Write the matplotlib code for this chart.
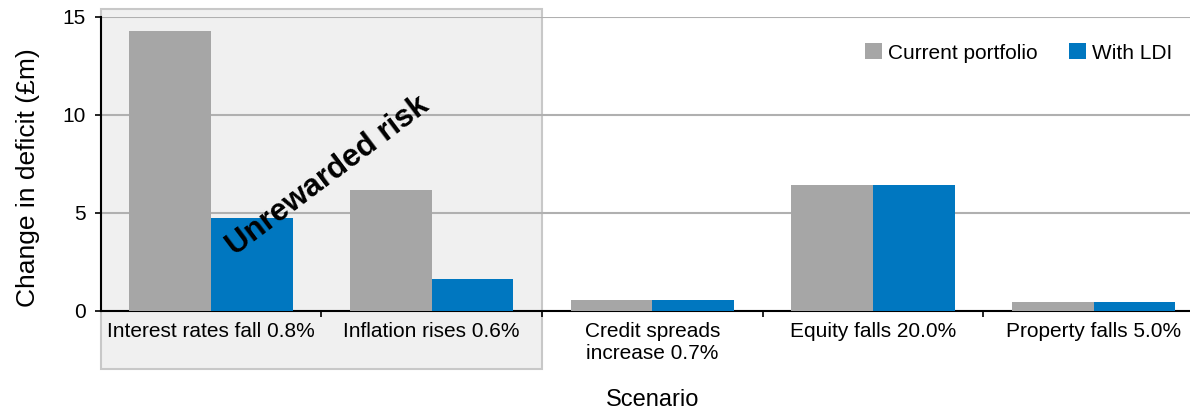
import matplotlib
matplotlib.use("Agg")
from matplotlib import pyplot as plt
from matplotlib.patches import Rectangle
import numpy as np

plt.rcParams['font.family'] = ['Liberation Sans', 'DejaVu Sans']

scenarios = ["Interest rates fall 0.8%", "Inflation rises 0.6%",
             "Credit spreads\nincrease 0.7%", "Equity falls 20.0%",
             "Property falls 5.0%"]
current = [14.27, 6.17, 0.56, 6.42, 0.46]
with_ldi = [4.76, 1.63, 0.56, 6.42, 0.46]

grey = '#a6a6a6'
blue = '#0077c0'

fig = plt.figure(figsize=(11.9, 4.13), dpi=100)
ax = fig.add_axes([0.0846, 0.247, 0.9271, 0.7126])

x = np.arange(len(scenarios))
w = 0.37
ax.bar(x - w/2, current, w, color=grey, label='Current portfolio', zorder=3)
ax.bar(x + w/2, with_ldi, w, color=blue, label='With LDI', zorder=3)

ax.set_xlim(-0.5, len(scenarios) - 0.5)
ax.set_ylim(0, 15)
ax.set_yticks([0, 5, 10, 15])
ax.yaxis.grid(True, color='#b0b0b0', linewidth=1.5, zorder=1)
ax.set_axisbelow(True)

# category boundaries get the tick marks, names sit in between
ax.set_xticks(np.arange(0.5, len(scenarios)), [])
ax.set_xticks(x, scenarios, minor=True)
ax.tick_params(axis='x', which='major', direction='out', length=4, width=1.2)
ax.tick_params(axis='x', which='minor', length=0, pad=8, labelsize=15)
ax.tick_params(axis='y', direction='out', length=4, width=1.2, pad=7, labelsize=15)

for s in ['top', 'right']:
    ax.spines[s].set_visible(False)
ax.spines['left'].set_linewidth(1.5)
ax.spines['bottom'].set_linewidth(1.5)

ax.set_ylabel('Change in deficit (£m)', fontsize=19, va='center')
ax.yaxis.set_label_coords(-0.066, 0.452)
ax.set_xlabel('Scenario', fontsize=17)
ax.xaxis.set_label_coords(0.5, -0.265)

# shaded panel behind the first two scenarios
box = Rectangle((0, -0.197), 0.4, 1.223, transform=ax.transAxes,
                facecolor='#f0f0f0', edgecolor='#c8c8c8', linewidth=1.5,
                clip_on=False, zorder=0)
ax.add_patch(box)

ax.text(0.53, 6.88, 'Unrewarded risk', rotation=37, rotation_mode='anchor',
        ha='center', va='center', fontsize=22.5, fontweight='bold', zorder=4)

ax.legend(loc='center right', bbox_to_anchor=(1172/1190, 1 - 53/413),
          bbox_transform=fig.transFigure, ncol=2, frameon=False, fontsize=15,
          handlelength=0.8, handleheight=0.8, handletextpad=0.3,
          columnspacing=1.5, borderpad=0, borderaxespad=0)

fig.savefig('out.png', dpi=100)
